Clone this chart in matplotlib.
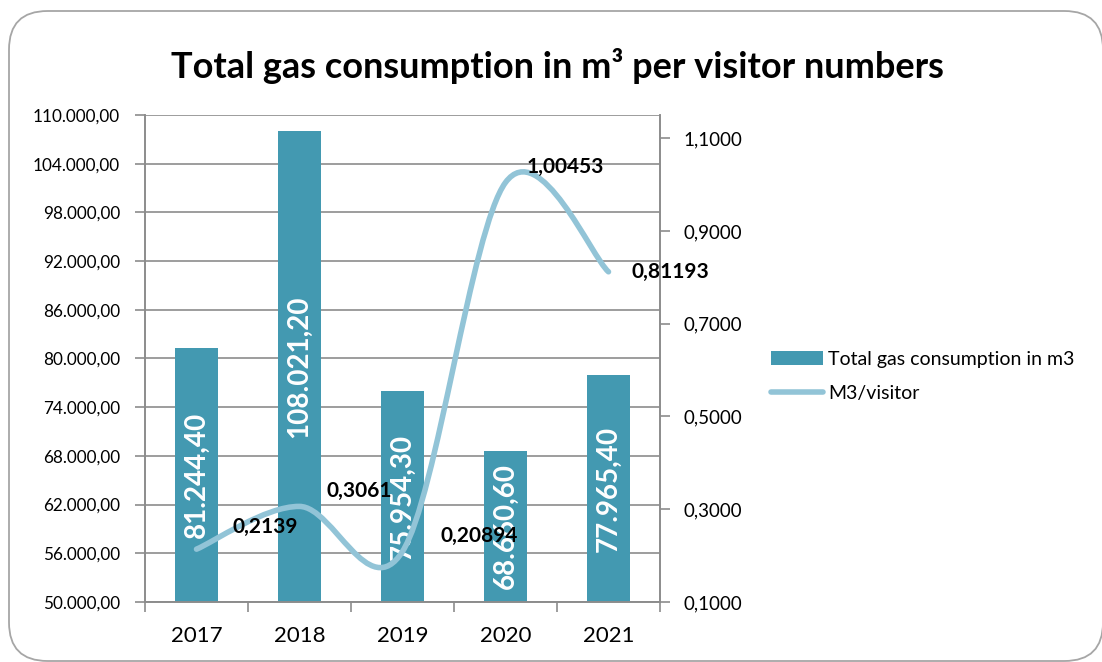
import numpy as np
import matplotlib
matplotlib.use("Agg")
import matplotlib.pyplot as plt
from matplotlib.path import Path
from matplotlib.patches import PathPatch, Patch, FancyBboxPatch
from matplotlib.lines import Line2D
from matplotlib.ticker import FuncFormatter

plt.rcParams['font.family'] = ['Lato', 'DejaVu Sans']

years = ['2017', '2018', '2019', '2020', '2021']
gas_m3 = [81244.40, 108021.20, 75954.30, 68660.60, 77965.40]
m3_per_visitor = [0.2139, 0.3061, 0.20894, 1.00453, 0.81193]
bar_name = 'Total gas consumption in m3'
line_name = 'M3/visitor'

BAR_COL = '#4399B1'
LINE_COL = '#92C4D7'
GRID_COL = '#8C8C8C'


def eu(v, dec):
    s = f"{v:,.{dec}f}"
    return s.replace(',', 'X').replace('.', ',').replace('X', '.')


fig = plt.figure(figsize=(11.02, 6.62), dpi=100)

# rounded frame round the whole chart
frame = FancyBboxPatch((9 / 1102, 1 / 662), 1094 / 1102, 650 / 662,
                       boxstyle="round,pad=0,rounding_size=0.035",
                       transform=fig.transFigure, fill=False, clip_on=False,
                       edgecolor='#A6A6A6', linewidth=1.3, mutation_aspect=1102 / 662)
fig.patches.append(frame)

ax = fig.add_axes([145 / 1102, 60 / 662, 515 / 1102, 487 / 662])
ax2 = ax.twinx()

x = np.arange(len(years))
ax.bar(x, gas_m3, width=0.41, color=BAR_COL, zorder=2)
ax.set_ylim(50000, 110000)
ax.set_xlim(-0.5, len(years) - 0.5)
ax.set_yticks(np.arange(50000, 110001, 6000))
ax.yaxis.set_major_formatter(FuncFormatter(lambda v, p: eu(v, 2)))
ax.grid(axis='y', color=GRID_COL, linewidth=1.2, zorder=0)
ax.set_axisbelow(True)

ax.set_xticks(x)
ax.set_xticklabels(years, fontsize=16)
ax.set_xticks(np.arange(len(years) + 1) - 0.5, minor=True)
ax.tick_params(axis='x', which='major', length=0, pad=17)
ax.tick_params(axis='x', which='minor', length=7, color=GRID_COL, width=1.2)
ax.tick_params(axis='y', length=7, color=GRID_COL, width=1.2, labelsize=12.3, pad=11)

for a in (ax, ax2):
    a.spines['top'].set_visible(False)
    for sp in ['left', 'right', 'bottom']:
        a.spines[sp].set_color(GRID_COL)
        a.spines[sp].set_linewidth(1.2)

# bar value labels, centred in each bar
for xi, v in zip(x, gas_m3):
    ax.text(xi, (50000 + v) / 2, eu(v, 2), rotation=90, ha='center', va='center',
            color='white', fontsize=20, fontweight='bold', zorder=3)

# smoothed line (Catmull-Rom as Bezier, like the spreadsheet smoothing)
ax2.set_ylim(0.1, 1.15)
ax2.set_yticks([0.1, 0.3, 0.5, 0.7, 0.9, 1.1])
ax2.yaxis.set_major_formatter(FuncFormatter(lambda v, p: eu(v, 4)))
ax2.tick_params(axis='y', length=7, color=GRID_COL, width=1.2, labelsize=13.5, pad=10)

pts = np.column_stack([x, m3_per_visitor]).astype(float)
verts = [pts[0]]
codes = [Path.MOVETO]
n = len(pts)
for i in range(n - 1):
    p0 = pts[max(i - 1, 0)]
    p1 = pts[i]
    p2 = pts[i + 1]
    p3 = pts[min(i + 2, n - 1)]
    verts += [p1 + (p2 - p0) / 6, p2 - (p3 - p1) / 6, p2]
    codes += [Path.CURVE4] * 3
ax2.add_patch(PathPatch(Path(verts, codes), fill=False, edgecolor=LINE_COL,
                        linewidth=4, capstyle='round', zorder=4))

# label offsets from each point (x in categories, y in axis units)
lbl_off = [(0.67, 0.047), (0.58, 0.034), (0.74, 0.033), (0.58, 0.034), (0.6, 0.0)]
for xi, v, (dx, dy) in zip(x, m3_per_visitor, lbl_off):
    ax2.text(xi + dx, v + dy, str(v).replace('.', ','),
             ha='center', va='center', fontsize=15, fontweight='bold', color='black', zorder=5)

handles = [Patch(facecolor=BAR_COL, edgecolor='none'),
           Line2D([0], [0], color=LINE_COL, linewidth=4, solid_capstyle='round')]
fig.legend(handles, [bar_name, line_name], loc='upper left',
           bbox_to_anchor=(753 / 1102, 1 - 333 / 662), frameon=False, fontsize=14,
           handlelength=2.7, handletextpad=0.25, labelspacing=0.9)

fig.text(557 / 1102, 1 - 66 / 662, 'Total gas consumption in m³ per visitor numbers',
         ha='center', va='center', fontsize=26, fontweight='bold')

fig.savefig('out.png', dpi=100)
